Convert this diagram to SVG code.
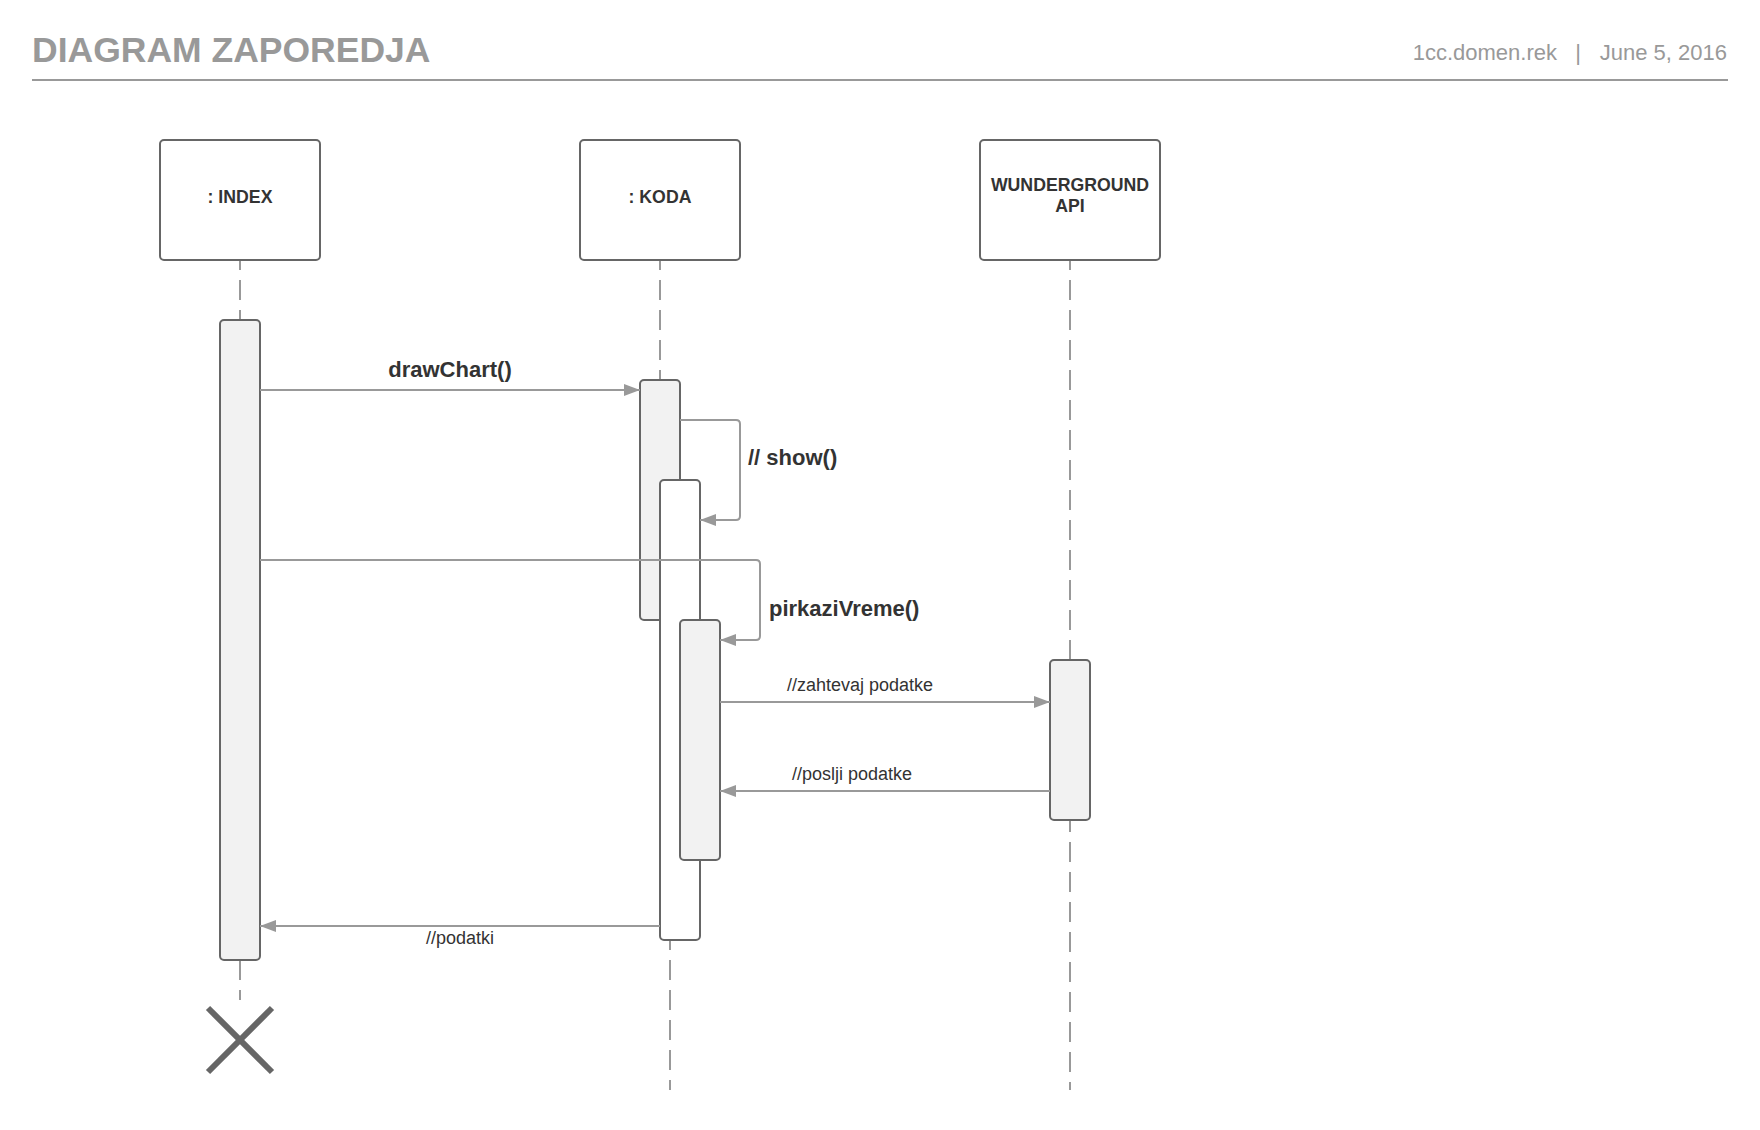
<svg xmlns="http://www.w3.org/2000/svg" width="1760" height="1130" viewBox="0 0 1760 1130">
<style>
.hdr{font-family:"Liberation Sans",Arial,sans-serif;fill:#999}
.box{fill:#fff;stroke:#666;stroke-width:2}
.lbl{font-family:"Liberation Sans",Arial,sans-serif;font-weight:bold;font-size:17.7px;fill:#333;text-anchor:middle}
.life{stroke:#999;stroke-width:2;stroke-dasharray:20 10;fill:none}
.act{fill:#f2f2f2;stroke:#666;stroke-width:2}
.actw{fill:#fff;stroke:#666;stroke-width:2}
.msg{stroke:#999;stroke-width:2;fill:none}
.mb{font-family:"Liberation Sans",Arial,sans-serif;font-weight:bold;font-size:22px;fill:#333}
.mr{font-family:"Liberation Sans",Arial,sans-serif;font-size:18px;fill:#333}
</style>
<defs>
<marker id="arr" markerUnits="userSpaceOnUse" markerWidth="17" markerHeight="12" refX="16" refY="6" orient="auto">
<path d="M0,0 L16,6 L0,12 z" fill="#999"/>
</marker>
</defs>
<rect width="1760" height="1130" fill="#fff"/>
<g id="header">
<text class="hdr" x="32" y="62" font-size="35.5" font-weight="bold">DIAGRAM ZAPOREDJA</text>
<text class="hdr" x="1557" y="60" font-size="22" text-anchor="end">1cc.domen.rek</text>
<text class="hdr" x="1578" y="60" font-size="22" text-anchor="middle">|</text>
<text class="hdr" x="1727" y="60" font-size="22" text-anchor="end">June 5, 2016</text>
<line x1="32" y1="80" x2="1728" y2="80" stroke="#999" stroke-width="2"/>
</g>
<g id="lifelines">
<line class="life" x1="240" y1="260" x2="240" y2="320" stroke-dashoffset="10"/>
<line class="life" x1="240" y1="960" x2="240" y2="1000"/>
<line class="life" x1="660" y1="260" x2="660" y2="380" stroke-dashoffset="10"/>
<line class="life" x1="670" y1="940" x2="670" y2="1090" stroke-dashoffset="10"/>
<line class="life" x1="1070" y1="260" x2="1070" y2="660" stroke-dashoffset="10"/>
<line class="life" x1="1070" y1="820" x2="1070" y2="1090" stroke-dashoffset="8"/>
</g>
<g id="index">
<rect class="box" x="160" y="140" width="160" height="120" rx="4"/>
<text class="lbl" x="240" y="203">: INDEX</text>
</g>
<g id="koda">
<rect class="box" x="580" y="140" width="160" height="120" rx="4"/>
<text class="lbl" x="660" y="203">: KODA</text>
</g>
<g id="api">
<rect class="box" x="980" y="140" width="180" height="120" rx="4"/>
<text class="lbl" x="1070" y="191">WUNDERGROUND</text>
<text class="lbl" x="1070" y="212">API</text>
</g>
<g id="act-index">
<rect class="act" x="220" y="320" width="40" height="640" rx="4"/>
</g>
<g id="act-koda-1">
<rect class="act" x="640" y="380" width="40" height="240" rx="4"/>
</g>
<g id="act-koda-2">
<rect class="actw" x="660" y="480" width="40" height="460" rx="4"/>
</g>
<g id="act-koda-3">
<rect class="act" x="680" y="620" width="40" height="240" rx="4"/>
</g>
<g id="act-api">
<rect class="act" x="1050" y="660" width="40" height="160" rx="4"/>
</g>
<g id="destroy">
<line x1="208" y1="1008" x2="272" y2="1072" stroke="#666" stroke-width="6"/>
<line x1="272" y1="1008" x2="208" y2="1072" stroke="#666" stroke-width="6"/>
</g>
<g id="connectors">
<line class="msg" x1="260" y1="390" x2="640" y2="390" marker-end="url(#arr)"/>
<text class="mb" x="450" y="377" text-anchor="middle">drawChart()</text>
<path class="msg" d="M680,420 H736 Q740,420 740,424 V516 Q740,520 736,520 H700" marker-end="url(#arr)"/>
<text class="mb" x="748" y="465">// show()</text>
<path class="msg" d="M260,560 H756 Q760,560 760,564 V636 Q760,640 756,640 H720" marker-end="url(#arr)"/>
<text class="mb" x="769" y="616">pirkaziVreme()</text>
<line class="msg" x1="720" y1="702" x2="1050" y2="702" marker-end="url(#arr)"/>
<text class="mr" x="860" y="691" text-anchor="middle">//zahtevaj podatke</text>
<line class="msg" x1="1050" y1="791" x2="720" y2="791" marker-end="url(#arr)"/>
<text class="mr" x="852" y="780" text-anchor="middle">//poslji podatke</text>
<line class="msg" x1="660" y1="926" x2="260" y2="926" marker-end="url(#arr)"/>
<text class="mr" x="460" y="944" text-anchor="middle">//podatki</text>
</g>
</svg>
